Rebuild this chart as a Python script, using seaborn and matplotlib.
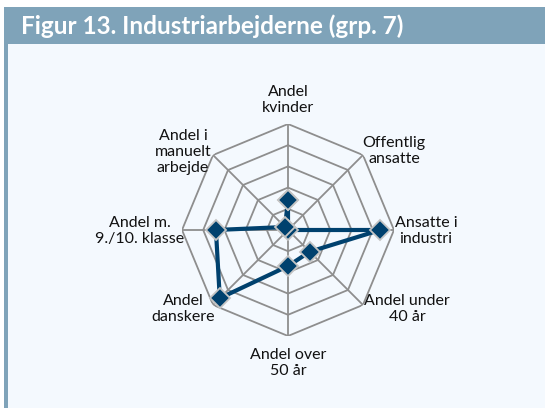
import numpy as np
import pandas as pd
import matplotlib
matplotlib.use("Agg")
import matplotlib.pyplot as plt
from matplotlib.patches import Rectangle
import seaborn as sns

# radar axes, clockwise from the top
categories = ["Andel\nkvinder", "Offentlig\nansatte", "Ansatte i\nindustri",
              "Andel under\n40 år", "Andel over\n50 år", "Andel\ndanskere",
              "Andel m.\n9./10. klasse", "Andel i\nmanuelt\narbejde"]
values = [28, 0, 87, 29, 34, 91, 68, 4]
ring_levels = [20, 40, 60, 80, 100]

title = "Figur 13. Industriarbejderne (grp. 7)"

# label offsets from the outer vertex, in pixels
label_offsets = [(0, 24), (31, 4), (32, -1), (44, -4),
                 (0, -27), (-30, -4), (-42, -1), (-30, 3)]

BAR = "#7fa3b9"
PANEL = "#f4f9fe"
GRID = "#8e8e8e"
NAVY = "#00416e"

sns.set_style("white")
plt.rcParams["font.family"] = ["Lato", "DejaVu Sans"]

W, H = 545, 408
fig = plt.figure(figsize=(W / 100, H / 100), dpi=100)
fig.patch.set_facecolor("white")

# panel, left strip and title bar
fig.patches.append(Rectangle((4 / W, 0), 1 - 4 / W, 1 - 7 / H, transform=fig.transFigure,
                             facecolor=PANEL, edgecolor="none", zorder=-3))
fig.patches.append(Rectangle((4 / W, 0), 4 / W, 1 - 7 / H, transform=fig.transFigure,
                             facecolor=BAR, edgecolor="none", zorder=-2))
fig.patches.append(Rectangle((4 / W, 1 - 44 / H), 1 - 4 / W, 37 / H, transform=fig.transFigure,
                             facecolor=BAR, edgecolor="none", zorder=-2))
fig.text(21 / W, 1 - 26 / H, title, color="white", fontsize=17.5, fontweight="bold",
         ha="left", va="center")

# polar axes: centre (288, 230) px, radius 106 px
cx, cy, rad = 288, 230, 106
ax = fig.add_axes([(cx - rad) / W, (H - cy - rad) / H, 2 * rad / W, 2 * rad / H],
                  projection="polar")
ax.set_theta_zero_location("N")
ax.set_theta_direction(-1)
ax.set_ylim(0, 100)
ax.patch.set_visible(False)
ax.spines["polar"].set_visible(False)
ax.grid(False)
ax.set_xticks([])
ax.set_yticks([])

n = len(categories)
angles = np.linspace(0, 2 * np.pi, n, endpoint=False)
closed = np.append(angles, angles[0])

# octagonal grid
for lev in ring_levels:
    ax.plot(closed, [lev] * (n + 1), color=GRID, lw=1.3, zorder=1)
for a in angles:
    ax.plot([a, a], [0, ring_levels[-1]], color=GRID, lw=1.3, zorder=1)

df = pd.DataFrame({"theta": closed, "value": values + values[:1]})
sns.lineplot(data=df, x="theta", y="value", sort=False, estimator=None, ax=ax,
             color=NAVY, lw=3, marker="D", markersize=10.5,
             markeredgecolor="#c4c4c4", markeredgewidth=1.3, zorder=3)
ax.set_xlabel("")
ax.set_ylabel("")

for a, lab, off in zip(angles, categories, label_offsets):
    ax.annotate(lab, xy=(a, ring_levels[-1]), xytext=off, textcoords="offset pixels",
                ha="center", va="center", fontsize=11.5, color="#111111",
                linespacing=1.2, annotation_clip=False)

fig.savefig("out.png", dpi=100)
